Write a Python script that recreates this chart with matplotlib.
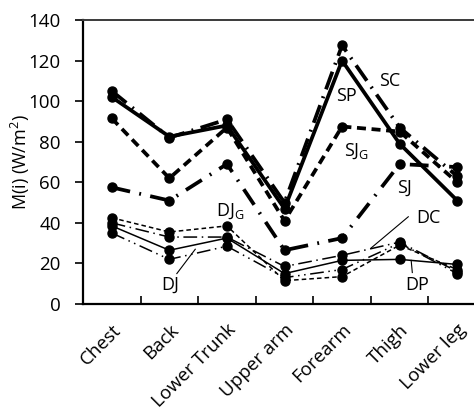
import matplotlib
matplotlib.use("Agg")
import matplotlib.pyplot as plt

plt.rcParams['font.family'] = ['Open Sans', 'DejaVu Sans']
plt.rcParams['mathtext.fontset'] = 'custom'
plt.rcParams['mathtext.rm'] = 'Open Sans'

categories = ["Chest", "Back", "Lower Trunk", "Upper arm", "Forearm", "Thigh", "Lower leg"]

sp = [102, 82.5, 88, 47, 120, 79, 51]
sc = [105, 82, 91, 50, 127.5, 87, 63]
sj_g = [91.5, 62, 87, 41, 87.5, 85, 60]
sj = [57.5, 51, 69, 26.5, 32.5, 69, 67.5]

dj_g = [42.5, 35.5, 38.5, 11.5, 13.5, 29, 17]
dj = [35, 22, 28.5, 13, 17, 30, 15]
dp = [38.5, 26.5, 32.5, 15, 21.5, 22, 19.5]
dc = [40, 33, 33, 18.5, 24, 30.5, 16]

fig = plt.figure(figsize=(4.74, 4.09), dpi=100)
ax = fig.add_axes([83 / 474, 105 / 409, 403 / 474, 284 / 409])

x = range(len(categories))
thick = dict(color='black', lw=2.7, marker='o', ms=6.5)
thin = dict(color='black', lw=1.1, marker='o', ms=6.5)

ax.plot(x, dj_g, dashes=(3, 2), **thin)
ax.plot(x, dj, dashes=(9, 3, 1, 3, 1, 3), **thin)
ax.plot(x, dc, dashes=(9, 3, 1, 3), **thin)
ax.plot(x, dp, **thin)

ax.plot(x, sj, dashes=(5, 2.5, 0.5, 2.5), **thick)
ax.plot(x, sj_g, dashes=(2.4, 1.5), **thick)
ax.plot(x, sc, dashes=(5, 2, 0.5, 2), **thick)
ax.plot(x, sp, **thick)

ax.set_xlim(-0.5, len(categories) - 0.5)
ax.set_ylim(0, 140)
ax.set_yticks(range(0, 141, 20))
ax.set_xticks(x)
ax.set_xticklabels(categories, rotation=45, ha='right', rotation_mode='anchor', fontsize=13.5)
ax.set_xticks([i + 0.5 for i in range(len(categories) - 1)], minor=True)
ax.tick_params(axis='x', which='major', length=0, pad=12)
ax.tick_params(axis='x', which='minor', direction='in', length=6, width=1.2)
ax.tick_params(axis='y', direction='out', length=6, width=1.2, labelsize=13.5, pad=10)

for side in ['left', 'bottom']:
    ax.spines[side].set_linewidth(1.6)
    ax.spines[side].set_color('black')
for side in ['top', 'right']:
    ax.spines[side].set_linewidth(1.4)
    ax.spines[side].set_color('#3a3a3a')

ax.set_ylabel("M(i) (W/m$^2$)", fontsize=13)
ax.yaxis.set_label_coords(-0.127, 0.5)

fs = 13
ax.text(4.83, 110, "SC", fontsize=fs, ha='center', va='center')
ax.text(4.08, 102.5, "SP", fontsize=fs, ha='center', va='center')
ax.text(4.25, 75.5, "SJ$_\\mathregular{G}$", fontsize=fs, ha='center', va='center')
ax.text(5.08, 57.5, "SJ", fontsize=fs, ha='center', va='center')
ax.text(5.5, 42.5, "DC", fontsize=fs, ha='center', va='center')
ax.text(5.3, 9.5, "DP", fontsize=fs, ha='center', va='center')
ax.text(2.05, 45.5, "DJ$_\\mathregular{G}$", fontsize=fs, ha='center', va='center')
ax.text(1.02, 9.5, "DJ", fontsize=fs, ha='center', va='center')

# leader lines
ax.plot([5.15, 4.5], [43, 27.5], color='black', lw=0.8)
ax.plot([5.2, 5.22], [21.5, 15.5], color='black', lw=0.8)
ax.plot([1.13, 1.45], [15, 27], color='black', lw=0.8)

fig.savefig("out.png", dpi=100)
